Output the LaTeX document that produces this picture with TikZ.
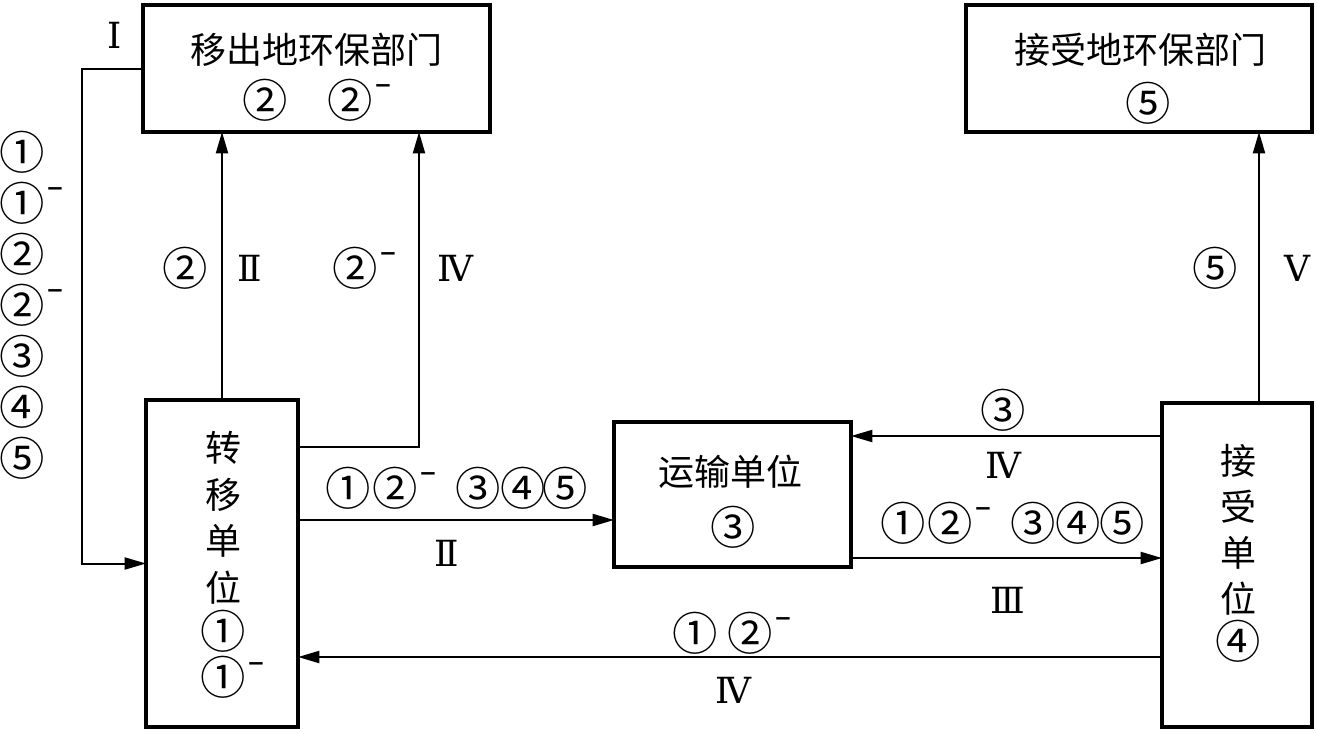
\documentclass[tikz,border=0pt]{standalone}
\usepackage{fontspec}
\setmainfont{Noto Sans CJK SC}
\newfontfamily\rmn{DejaVu Serif}
\newfontfamily\cir[Scale=1.26]{Noto Sans CJK SC}
\newfontfamily\djs{DejaVu Sans}
\usetikzlibrary{arrows.meta}
\newcommand{\mi}{\rlap{\kern1pt\raisebox{18.6pt}[0pt][0pt]{\djs\bfseries\fontsize{16}{16}\selectfont −}}}
\begin{document}
\begin{tikzpicture}[x=0.75pt,y=-0.75pt,
  font=\fontsize{27}{32}\selectfont,
  box/.style={draw,line width=2.3pt,outer sep=0pt,inner sep=0pt},
  conn/.style={line width=1.5pt,-{Triangle[length=16pt,width=9pt]}},
  txt/.style={inner sep=0pt,outer sep=0pt,align=center},
  cn/.style={txt,font=\fontsize{27}{32}\selectfont\cir},
  rn/.style={inner sep=0pt,font=\fontsize{27}{32}\selectfont\rmn}]
\useasboundingbox (0,0) rectangle (1317,733);
% boxes
\node[box,minimum width=347*0.75pt,minimum height=127*0.75pt] (yc) at (316.5,68.5) {};
\node[box,minimum width=346*0.75pt,minimum height=127*0.75pt] (jh) at (1139,68.5) {};
\node[box,minimum width=152*0.75pt,minimum height=327*0.75pt] (zy) at (222,563.5) {};
\node[box,minimum width=237*0.75pt,minimum height=145*0.75pt] (ys) at (732.5,494.5) {};
\node[box,minimum width=150*0.75pt,minimum height=324*0.75pt] (js) at (1237,565) {};
% box texts
\node[txt] (yct) at (316,50) {移出地环保部门};
\node[cn] (yca) at (265,100) {②};
\node[cn] (ycb) at (350,100) {②\mi};
\node[txt] (jht) at (1140,50) {接受地环保部门};
\node[cn] (jha) at (1148,103) {⑤};
\node[txt,font=\fontsize{27}{35}\selectfont] (zyt) at (223,565) {转\\移\\单\\位\\{\cir ①}\\{\cir ①}\mi};
\node[txt,font=\fontsize{27}{34.5}\selectfont] (jst) at (1238,553) {接\\受\\单\\位\\{\cir ④}};
\node[txt] (yst) at (730,472) {运输单位};
\node[cn] (ysa) at (733,527) {③};
% coordinates
\coordinate (k1) at (419,447);
\coordinate (a2) at (600,520);
\coordinate (a3) at (1000,436);
\coordinate (a4) at (1000,558);
\coordinate (a5) at (700,657);
\coordinate (a6) at (1259,300);
% connectors
\draw[conn] (yc.west) -- ++(-61,0) |- (zy.west);
\draw[conn] (zy.north) -- (zy.north |- yc.south);
\draw[conn] (zy.east |- k1) -- (k1) -- (k1 |- yc.south);
\draw[conn] (zy.east |- a2) -- (ys.west |- a2);
\draw[conn] (js.west |- a3) -- (ys.east |- a3);
\draw[conn] (ys.east |- a4) -- (js.west |- a4);
\draw[conn] (js.west |- a5) -- (zy.east |- a5);
\draw[conn] (js.north -| a6) -- (jh.south -| a6);
% left list
\node[rn] (lI) at (115,35) {Ⅰ};
\node[cn,font=\fontsize{27}{38.25}\selectfont\cir] (lst) at (22,305) {①\\①\mi\\②\\②\mi\\③\\④\\⑤};
% labels on vertical arrows
\node[cn] (l2a) at (185,268) {②};
\node[rn] (l2b) at (250,268) {Ⅱ};
\node[cn] (l2c) at (355,268) {②\mi};
\node[rn] (l2d) at (455,268) {Ⅳ};
\node[cn] (l5a) at (1215,268) {⑤};
\node[rn] (l5b) at (1297,268) {Ⅴ};
% row A
\node[cn] (ra1) at (348,488) {①};
\node[cn] (ra2) at (395,488) {②\mi};
\node[cn] (ra3) at (478,488) {③};
\node[cn] (ra4) at (523,488) {④};
\node[cn] (ra5) at (565,488) {⑤};
\node[rn] (raI) at (447,553) {Ⅱ};
% upper right arrow labels
\node[cn] (rb0) at (1003,410) {③};
\node[rn] (rbI) at (1003,465) {Ⅳ};
% row B
\node[cn] (rb1) at (903,523) {①};
\node[cn] (rb2) at (950,523) {②\mi};
\node[cn] (rb3) at (1033,523) {③};
\node[cn] (rb4) at (1078,523) {④};
\node[cn] (rb5) at (1122,523) {⑤};
\node[rn] (rbII) at (1008,600) {Ⅲ};
% row C
\node[cn] (rc1) at (695,633) {①};
\node[cn] (rc2) at (750,633) {②\mi};
\node[rn] (rcI) at (733,690) {Ⅳ};
\end{tikzpicture}
\end{document}
